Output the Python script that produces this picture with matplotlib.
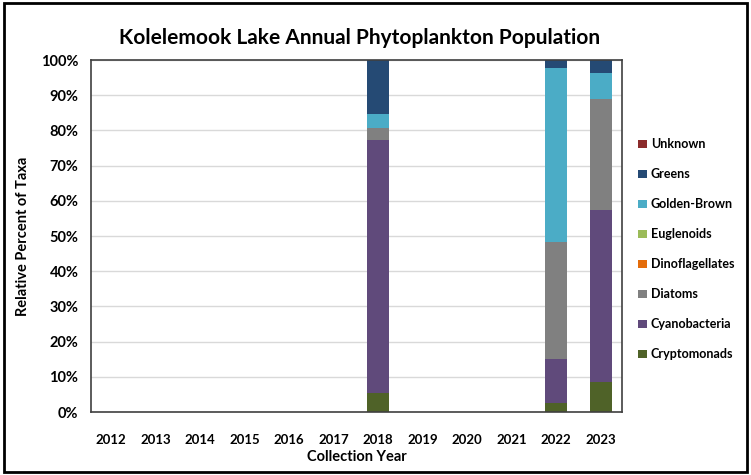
import numpy as np
import matplotlib
matplotlib.use("Agg")
import matplotlib.pyplot as plt
from matplotlib.patches import Rectangle

years = [str(y) for y in range(2012, 2024)]
taxa = ['Cryptomonads', 'Cyanobacteria', 'Diatoms', 'Dinoflagellates',
        'Euglenoids', 'Golden-Brown', 'Greens', 'Unknown']
colors = ['#4F6228', '#604A7B', '#808080', '#E46C0A',
          '#9BBB59', '#4BACC6', '#254A74', '#8B2B2B']

# percent per taxon, only 2018, 2022 and 2023 have samples
cryptomonads = [0, 0, 0, 0, 0, 0, 5.4, 0, 0, 0, 2.6, 8.5]
cyanobacteria = [0, 0, 0, 0, 0, 0, 71.9, 0, 0, 0, 12.4, 48.9]
diatoms = [0, 0, 0, 0, 0, 0, 3.4, 0, 0, 0, 33.3, 31.5]
dinoflagellates = [0] * 12
euglenoids = [0] * 12
golden_brown = [0, 0, 0, 0, 0, 0, 4.0, 0, 0, 0, 49.5, 7.5]
greens = [0, 0, 0, 0, 0, 0, 15.3, 0, 0, 0, 2.2, 3.6]
unknown = [0] * 12

series = [cryptomonads, cyanobacteria, diatoms, dinoflagellates,
          euglenoids, golden_brown, greens, unknown]

plt.rcParams['font.family'] = ['Lato', 'DejaVu Sans']
plt.rcParams['font.weight'] = 'bold'

fig = plt.figure(figsize=(7.51, 4.75), dpi=100)
ax = fig.add_axes([91 / 751, 1 - 412 / 475, (622 - 91) / 751, (412 - 60) / 475])

x = np.arange(len(years))
bottom = np.zeros(len(years))
handles = []
for name, vals, c in zip(taxa, series, colors):
    vals = np.array(vals, dtype=float)
    b = ax.bar(x, vals, 0.5, bottom=bottom, color=c, label=name, zorder=2)
    handles.append(b)
    bottom += vals

ax.set_xlim(-0.45, 11.48)
ax.set_ylim(0, 100)
ax.set_yticks(range(0, 101, 10))
ax.set_yticklabels([f'{v}%' for v in range(0, 101, 10)], fontsize=10.5, fontweight='bold')
ax.set_xticks(x)
ax.set_xticklabels(years, fontsize=9.5, fontweight='bold')
ax.tick_params(axis='x', length=0, pad=16)
ax.tick_params(axis='y', length=0, pad=9)
ax.grid(axis='y', color='#D9D9D9', linewidth=1, zorder=0)
for s in ax.spines.values():
    s.set_color('#404040')
    s.set_linewidth(1.2)

ax.set_xlabel('Collection Year', fontsize=10.5, fontweight='bold', labelpad=3)
ax.set_ylabel('Relative Percent of Taxa', fontsize=10.5, fontweight='bold', labelpad=8)
fig.text(360 / 751, 1 - 38 / 475, 'Kolelemook Lake Annual Phytoplankton Population',
         ha='center', va='center', fontsize=15, fontweight='bold')

leg = fig.legend(handles[::-1], taxa[::-1], loc='upper left',
                 bbox_to_anchor=(627 / 751, 1 - 127 / 475), frameon=False,
                 fontsize=9, handlelength=0.7, handleheight=0.7,
                 handletextpad=0.3, labelspacing=1.44)
for t in leg.get_texts():
    t.set_fontweight('bold')

fig.patches.append(Rectangle((4 / 751, 3 / 475), 743 / 751, 469 / 475,
                             transform=fig.transFigure, fill=False,
                             edgecolor='black', linewidth=2))

fig.savefig('out.png', dpi=100)
